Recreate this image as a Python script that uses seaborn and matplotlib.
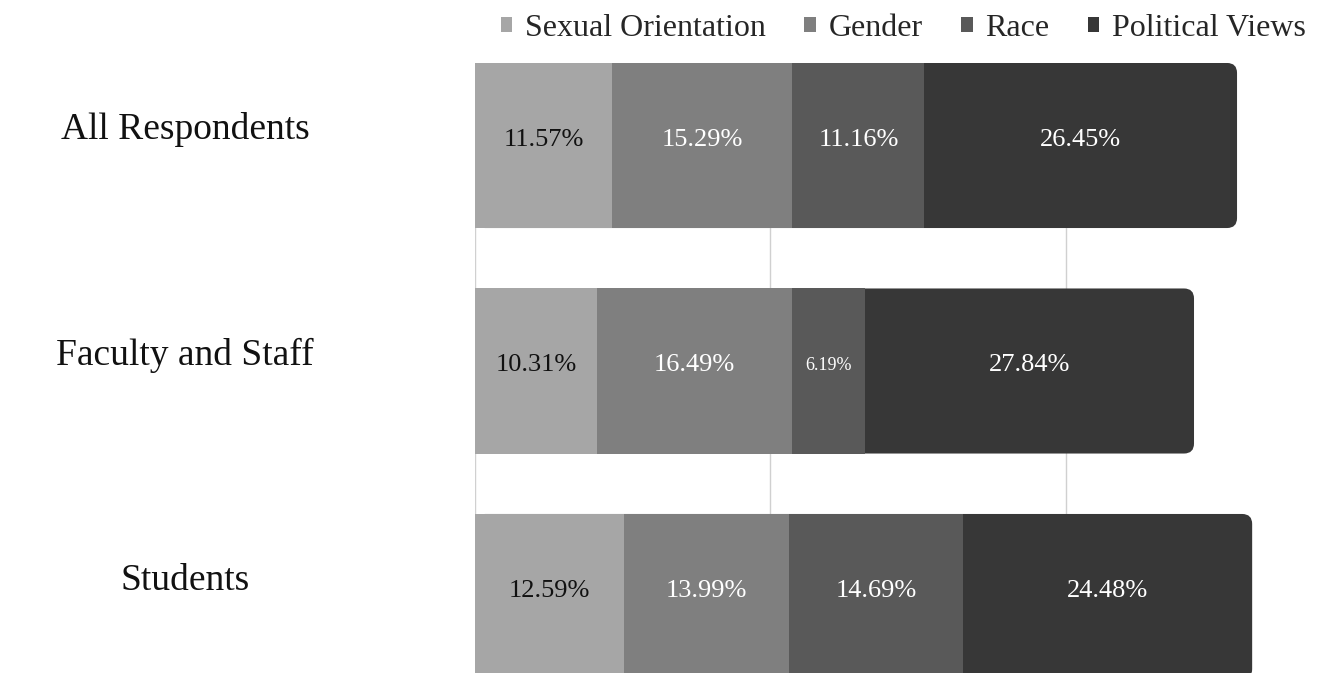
import numpy as np
import pandas as pd
import seaborn as sns
import matplotlib.pyplot as plt
import matplotlib.transforms as mtransforms
from matplotlib.patches import FancyBboxPatch

groups = ["All Respondents", "Faculty and Staff", "Students"]
series = ["Sexual Orientation", "Gender", "Race", "Political Views"]
sexual_orientation = [11.57, 10.31, 12.59]
gender = [15.29, 16.49, 13.99]
race = [11.16, 6.19, 14.69]
political_views = [26.45, 27.84, 24.48]
colors = ["#a6a6a6", "#7f7f7f", "#595959", "#373737"]
grid_ticks = [0, 25, 50, 75]

sns.set_theme(style="white")
plt.rcParams['font.family'] = ['Liberation Serif', 'DejaVu Serif']

values = np.array([sexual_orientation, gender, race, political_views])
cum = values.cumsum(axis=0)

W, H = 1321, 673
fig = plt.figure(figsize=(W / 100, H / 100), dpi=100)
ax = fig.add_axes([475 / W, 0, 846 / W, 610 / H])

px_per_x = 11.82
px_per_y = 225.5
handles = [None] * 4
for i in range(3, -1, -1):
    df = pd.DataFrame({"group": groups, "value": cum[i]})
    n0 = len(ax.patches)
    sns.barplot(data=df, y="group", x="value", orient="h", color=colors[i],
                width=0.732, saturation=1, linewidth=0, ax=ax, errorbar=None)
    new = list(ax.patches[n0:])
    if i == 3:
        rounded = []
        for p in new:
            x, y, w, h = p.get_x(), p.get_y(), p.get_width(), p.get_height()
            p.remove()
            r = 10 / px_per_x
            fb = FancyBboxPatch((x, y), w, h,
                                boxstyle=f"round,pad=0,rounding_size={r}",
                                mutation_aspect=px_per_x / px_per_y,
                                fc=colors[i], ec="none", zorder=0.95)
            ax.add_patch(fb)
            rounded.append(fb)
        handles[i] = rounded[0]
    else:
        handles[i] = new[0]

ax.set_xticks(grid_ticks)
ax.set_xticklabels([])
ax.set_yticks([])
ax.set_xlim(0, 846 / px_per_x)
ax.set_ylim((673 - 145.5) / px_per_y, -(145.5 - 63) / px_per_y)
ax.set_xlabel("")
ax.set_ylabel("")
ax.grid(axis="x", color="#d0d0d0", linewidth=1)
ax.set_axisbelow(True)
for s in ax.spines.values():
    s.set_visible(False)

# segment labels
for i in range(4):
    for j in range(3):
        v = values[i][j]
        xc = cum[i][j] - v / 2
        ax.text(xc, j - 0.025, f"{v:.2f}%", ha="center", va="center",
                fontsize=13 if v < 8 else 19,
                color="#111111" if i == 0 else "white")

# category labels
trans = mtransforms.blended_transform_factory(fig.transFigure, ax.transData)
for j, g in enumerate(groups):
    fig.text(185 / W, j - 0.07, g, transform=trans, ha="center", va="center",
             fontsize=27, color="#111111")

fig.legend(handles, series, loc="upper right",
           bbox_to_anchor=(1322 / W, 1 + 2 / H), ncol=4, frameon=False,
           fontsize=23, handlelength=0.36, handleheight=0.36,
           handletextpad=0.4, columnspacing=1.2, borderpad=0.0)

fig.savefig("out.png", dpi=100)
